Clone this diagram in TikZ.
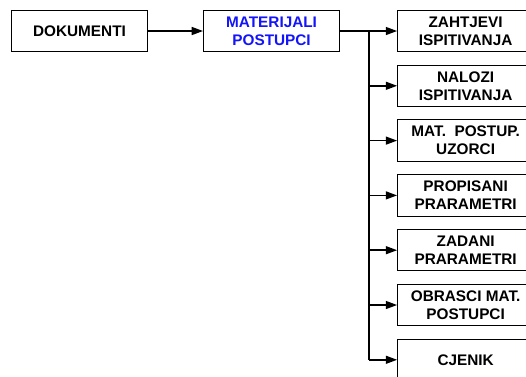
\documentclass[tikz,border=0pt]{standalone}
\usepackage{fontspec}
\setmainfont{Liberation Sans}
\usetikzlibrary{arrows.meta,positioning}
\definecolor{titleblue}{RGB}{20,20,250}
\tikzset{
  box/.style={draw=black, line width=0.8pt, fill=white, align=center, inner sep=2pt,
    font=\fontsize{11.5}{13.5}\selectfont\bfseries, minimum width=102pt, minimum height=31pt},
  item/.style={box},
  flow/.style={-{Triangle[length=8.5pt, width=6pt]}, line width=1.1pt},
  trunk/.style={line width=1.4pt},
}

\begin{document}
\begin{tikzpicture}[x=0.75pt, y=-0.75pt, node distance=9.3pt and 42.75pt]
    \useasboundingbox (0,0) rectangle (526,376);

    \node[box] (dokumenti) at (79.5,31) {DOKUMENTI};
    \node[box, right=41.25pt of dokumenti, text=titleblue] (materijali) {MATERIJALI\\ POSTUPCI};

    \node[item, right=of materijali] (zahtjevi) {ZAHTJEVI\\ ISPITIVANJA};
    \node[item, below=of zahtjevi] (nalozi) {NALOZI\\ ISPITIVANJA};
    \node[item, below=of nalozi] (uzorci) {MAT.~ POSTUP.\\ UZORCI};
    \node[item, below=of uzorci] (propisani) {PROPISANI\\ PRARAMETRI};
    \node[item, below=of propisani] (zadani) {ZADANI\\ PRARAMETRI};
    \node[item, below=of zadani] (obrasci) {OBRASCI MAT.\\ POSTUPCI};
    \node[item, below=of obrasci] (cjenik) {CJENIK};

    \coordinate[right=21.75pt of materijali.east] (split);

    \draw[flow] (dokumenti) -- (materijali);
    \draw[trunk] (materijali.east) -- (split) -- (split |- cjenik.west);
    \draw[flow] (split) -- (zahtjevi);
    \draw[flow] (split |- nalozi.west) -- (nalozi);
    \draw[flow] (split |- uzorci.west) -- (uzorci);
    \draw[flow] (split |- propisani.west) -- (propisani);
    \draw[flow] (split |- zadani.west) -- (zadani);
    \draw[flow] (split |- obrasci.west) -- (obrasci);
    \draw[flow] (split |- cjenik.west) -- (cjenik);
\end{tikzpicture}
\end{document}
